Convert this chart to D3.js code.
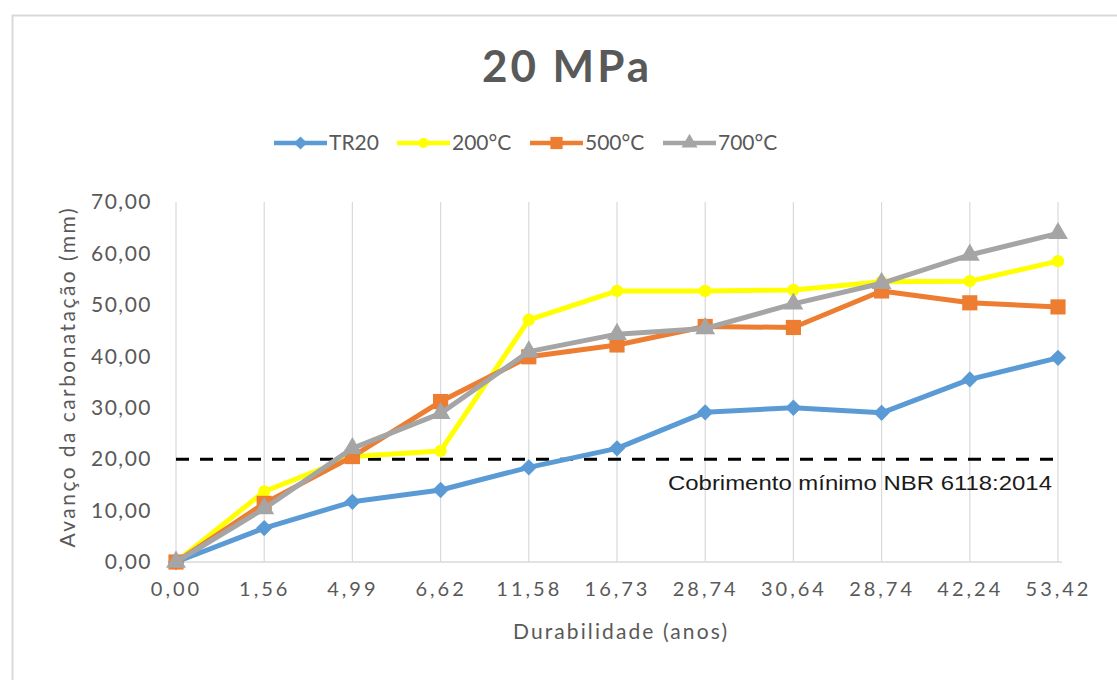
<!DOCTYPE html>
<html>
<head>
<meta charset="utf-8">
<script src="https://cdn.jsdelivr.net/npm/d3@7"></script>
<style>
  html, body { margin: 0; padding: 0; background: #fff; }
  svg { display: block; }
</style>
</head>
<body>
<svg id="chart" width="1117" height="680"></svg>
<script>
// Category labels (durability in years) along the x axis
const categories = ["0,00", "1,56", "4,99", "6,62", "11,58", "16,73", "28,74", "30,64", "28,74", "42,24", "53,42"];

// Carbonation depth (mm) per series
const tr20   = [0, 6.6, 11.7, 14.0, 18.4, 22.1, 29.1, 30.0, 29.0, 35.5, 39.7];
const t200   = [0, 13.7, 20.5, 21.6, 47.1, 52.7, 52.7, 52.9, 54.5, 54.6, 58.5];
const t500   = [0, 11.4, 20.5, 31.2, 39.9, 42.2, 45.8, 45.6, 52.7, 50.4, 49.6];
const t700   = [0, 10.4, 22.1, 28.9, 40.9, 44.3, 45.4, 50.2, 54.2, 59.7, 63.9];

const seriesNames = ["TR20", "200°C", "500°C", "700°C"];
const yTicks = [0, 10, 20, 30, 40, 50, 60, 70];
const minCover = 20;

const series = [
  { name: seriesNames[0], values: tr20, color: "#5B9BD5", symbol: d3.symbolDiamond2, size: 170 },
  { name: seriesNames[1], values: t200, color: "#FFFF00", symbol: d3.symbolCircle, size: 120 },
  { name: seriesNames[2], values: t500, color: "#ED7D31", symbol: d3.symbolSquare, size: 230 },
  { name: seriesNames[3], values: t700, color: "#A5A5A5", symbol: d3.symbolTriangle, size: 170 }
];

const svg = d3.select("#chart");
const fmt = v => d3.format(".2f")(v).replace(".", ",");

// Chart frame
svg.append("path")
  .attr("d", "M12.5,680 L12.5,15.5 L1117,15.5")
  .attr("fill", "none").attr("stroke", "#d9d9d9").attr("stroke-width", 2);

const x = d3.scalePoint().domain(d3.range(categories.length)).range([176, 1058]);
const y = d3.scaleLinear().domain([0, 70]).range([562, 202]);

// Vertical gridlines
svg.append("g").selectAll("line").data(d3.range(categories.length)).join("line")
  .attr("x1", d => x(d)).attr("x2", d => x(d))
  .attr("y1", y(70)).attr("y2", y(0))
  .attr("stroke", "#d9d9d9").attr("stroke-width", 1.2);

// Horizontal axis line
svg.append("line")
  .attr("x1", 176).attr("x2", 1062).attr("y1", y(0)).attr("y2", y(0))
  .attr("stroke", "#d9d9d9").attr("stroke-width", 1.5);

// Y axis labels
const yAxis = d3.axisLeft(y).tickValues(yTicks).tickFormat(fmt).tickSize(0).tickPadding(0);
const gy = svg.append("g").attr("transform", "translate(152,0)").call(yAxis);
gy.select(".domain").remove();
gy.selectAll("text")
  .attr("font-family", "Lato, sans-serif").attr("font-size", 21)
  .attr("fill", "#595959").attr("letter-spacing", 1.5);

// X axis labels
const xAxis = d3.axisBottom(x).tickFormat(i => categories[i]).tickSize(0).tickPadding(0);
const gx = svg.append("g").attr("transform", "translate(0,582)").call(xAxis);
gx.select(".domain").remove();
gx.selectAll("text")
  .attr("font-family", "Lato, sans-serif").attr("font-size", 20)
  .attr("fill", "#595959").attr("letter-spacing", 3);

// Minimum cover reference line
svg.append("line")
  .attr("x1", x(0)).attr("x2", x(categories.length - 1))
  .attr("y1", y(minCover)).attr("y2", y(minCover))
  .attr("stroke", "#000").attr("stroke-width", 3).attr("stroke-dasharray", "13,11");

svg.append("text")
  .attr("x", 668).attr("y", 490)
  .attr("font-family", "Liberation Sans, Arial, sans-serif").attr("font-size", 21)
  .attr("textLength", 384).attr("lengthAdjust", "spacingAndGlyphs")
  .attr("fill", "#1a1a1a")
  .text("Cobrimento mínimo NBR 6118:2014");

// Series lines and markers
const line = d3.line().x((d, i) => x(i)).y(d => y(d));
series.forEach(s => {
  svg.append("path").datum(s.values)
    .attr("fill", "none").attr("stroke", s.color).attr("stroke-width", 5)
    .attr("stroke-linejoin", "round").attr("d", line);
  svg.append("g").selectAll("path").data(s.values).join("path")
    .attr("transform", (d, i) => `translate(${x(i)},${y(d)})`)
    .attr("d", d3.symbol().type(s.symbol).size(s.size))
    .attr("fill", s.color);
});

// Title
svg.append("text")
  .attr("x", 567).attr("y", 82).attr("text-anchor", "middle")
  .attr("font-family", "Lato, sans-serif").attr("font-weight", 700).attr("font-size", 44)
  .attr("letter-spacing", 3).attr("fill", "#595959")
  .text("20 MPa");

// Legend
const legendX = [274, 397, 530, 663];
const legend = svg.append("g").attr("transform", "translate(0,143)");
series.forEach((s, i) => {
  const g = legend.append("g").attr("transform", `translate(${legendX[i]},0)`);
  g.append("line").attr("x1", 0).attr("x2", 53).attr("y1", 0).attr("y2", 0)
    .attr("stroke", s.color).attr("stroke-width", 4.5);
  g.append("path").attr("transform", "translate(26.5,0)")
    .attr("d", d3.symbol().type(s.symbol).size(s.size * 0.65)).attr("fill", s.color);
  g.append("text").attr("x", 55).attr("y", 0).attr("dy", "0.35em")
    .attr("font-family", "Lato, sans-serif").attr("font-size", 21)
    .attr("fill", "#595959").text(s.name);
});

// Axis titles
svg.append("text")
  .attr("transform", "translate(75,378) rotate(-90)").attr("text-anchor", "middle")
  .attr("font-family", "Lato, sans-serif").attr("font-size", 21)
  .attr("fill", "#595959").attr("textLength", 339).attr("lengthAdjust", "spacing")
  .text("Avanço da carbonatação (mm)");

svg.append("text")
  .attr("x", 620).attr("y", 639).attr("text-anchor", "middle")
  .attr("font-family", "Lato, sans-serif").attr("font-size", 21)
  .attr("fill", "#595959").attr("textLength", 214).attr("lengthAdjust", "spacing")
  .text("Durabilidade (anos)");
</script>
</body>
</html>
